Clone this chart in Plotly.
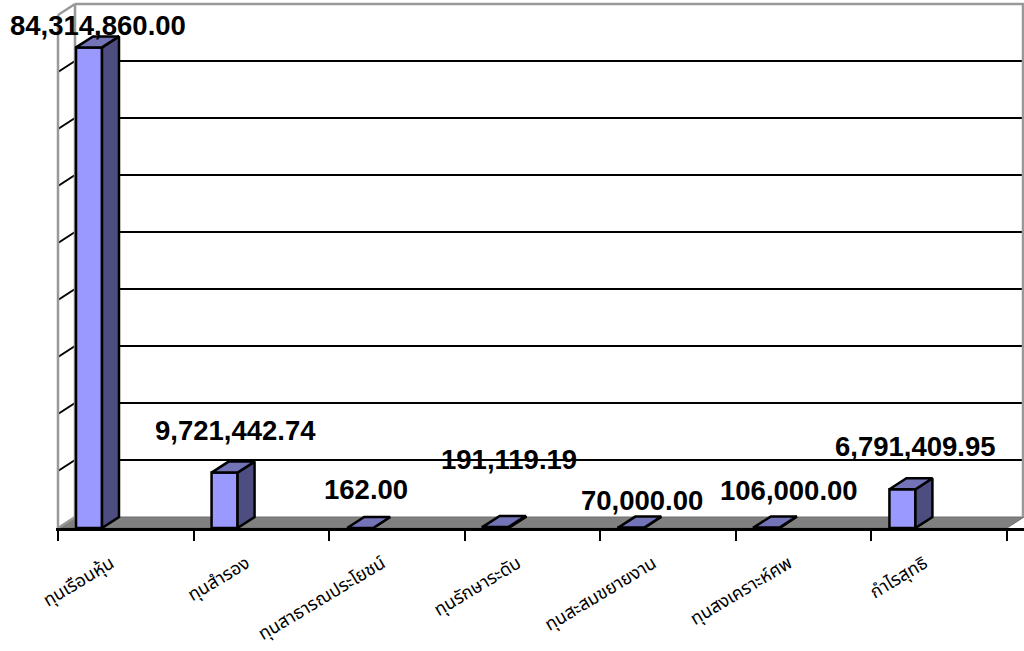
import plotly.graph_objects as go

categories = ["ทุนเรือนหุ้น", "ทุนสำรอง", "ทุนสาธารณประโยชน์", "ทุนรักษาระดับ",
              "ทุนสะสมขยายงาน", "ทุนสงเคราะห์ศพ", "กำไรสุทธิ"]
values = [84314860.00, 9721442.74, 162.00, 191119.19, 70000.00, 106000.00, 6791409.95]
value_labels = ["84,314,860.00", "9,721,442.74", "162.00", "191,119.19",
                "70,000.00", "106,000.00", "6,791,409.95"]
gridline_values = [10e6 * k for k in range(0, 10)]

# layout constants (pixels converted to axis units)
PX_X = 1 / 135.57
PX_Y = 10e6 / 57
DX = 17 * PX_X
DY = 11 * PX_Y
BAR_W = 26 * PX_X
BAR_OFF = 18 * PX_X
LABEL_SHIFT = [(9, 22), (11, 42), (6, 39), (13, 67), (11, 27), (22, 37), (13, 43)]

FRONT, SIDE, TOP = "#9999FF", "#4D4D80", "#7373B8"
WALL = "#999999"

xc = [i + BAR_OFF + BAR_W / 2 for i in range(len(values))]
fig = go.Figure()

# walls, floor, gridlines drawn beneath the bars
shapes = []
shapes.append(dict(type="path", layer="below",
                   path=f"M0,0 L{DX},{DY} L{7+DX},{DY} L7,0 Z",
                   fillcolor="#808080", line=dict(color="#6e6e6e", width=1)))
for g in gridline_values[1:-1]:
    shapes.append(dict(type="line", layer="below", x0=DX, x1=7 + DX, y0=g + DY, y1=g + DY,
                       line=dict(color="black", width=2)))
    shapes.append(dict(type="line", layer="below", x0=0, x1=DX, y0=g, y1=g + DY,
                       line=dict(color="black", width=2)))
top = gridline_values[-1]
wall_style = dict(color=WALL, width=2.5)
shapes += [
    dict(type="line", layer="below", x0=0, x1=0, y0=0, y1=top, line=wall_style),
    dict(type="line", layer="below", x0=DX, x1=DX, y0=DY, y1=top + DY, line=wall_style),
    dict(type="line", layer="below", x0=0, x1=DX, y0=top, y1=top + DY, line=wall_style),
    dict(type="line", layer="below", x0=0, x1=DX, y0=0, y1=DY, line=wall_style),
    dict(type="line", layer="below", x0=DX, x1=7 + DX, y0=top + DY, y1=top + DY, line=wall_style),
    dict(type="line", layer="below", x0=7 + DX - PX_X, x1=7 + DX - PX_X, y0=DY, y1=top + DY, line=wall_style),
]

fig.add_trace(go.Bar(x=xc, y=values, width=BAR_W,
                     marker=dict(color=FRONT, line=dict(color="black", width=2.5)),
                     hoverinfo="skip", showlegend=False))

for x, v in zip(xc, values):
    l, r = x - BAR_W / 2, x + BAR_W / 2
    fig.add_trace(go.Scatter(x=[r, r + DX, r + DX, r, r], y=[0, DY, v + DY, v, 0],
                             mode="lines", fill="toself", fillcolor=SIDE,
                             line=dict(color="black", width=2.5),
                             hoverinfo="skip", showlegend=False))
    fig.add_trace(go.Scatter(x=[l, l + DX, r + DX, r, l], y=[v, v + DY, v + DY, v, v],
                             mode="lines", fill="toself", fillcolor=TOP,
                             line=dict(color="black", width=2.5),
                             hoverinfo="skip", showlegend=False))

annotations = [
    dict(x=x, y=v, xref="x", yref="y", text=t, showarrow=False, xshift=sx, yshift=sy,
         font=dict(family="Liberation Sans", size=27.5, color="black"),
         xanchor="center", yanchor="middle")
    for x, v, t, (sx, sy) in zip(xc, values, ["<b>%s</b>" % s for s in value_labels], LABEL_SHIFT)
]

fig.update_layout(
    width=1024, height=651,
    margin=dict(l=56, r=0, t=0, b=123, pad=0, autoexpand=False),
    paper_bgcolor="white", plot_bgcolor="white",
    shapes=shapes, annotations=annotations,
    font=dict(family="Noto Sans, Noto Sans Thai, sans-serif", color="black"),
    xaxis=dict(range=[-2 * PX_X, 7 + DX], showgrid=False, zeroline=False, automargin=False,
               showline=True, linecolor="black", linewidth=3,
               tickmode="array", tickvals=[i + 0.39 for i in range(7)], ticktext=categories,
               ticks="", tickangle=-31, tickfont=dict(size=18, color="black"),
               ticklabelstandoff=15,
               minor=dict(tickmode="array", tickvals=list(range(8)), ticks="outside",
                          ticklen=10, tickwidth=2, tickcolor="black")),
    yaxis=dict(range=[0, 528 * PX_Y], showgrid=False, zeroline=False, showline=False,
               automargin=False, showticklabels=False, ticks=""),
)
fig.write_html("out.html", config=dict(displayModeBar=False),
               post_script="document.body.style.margin='0';")
